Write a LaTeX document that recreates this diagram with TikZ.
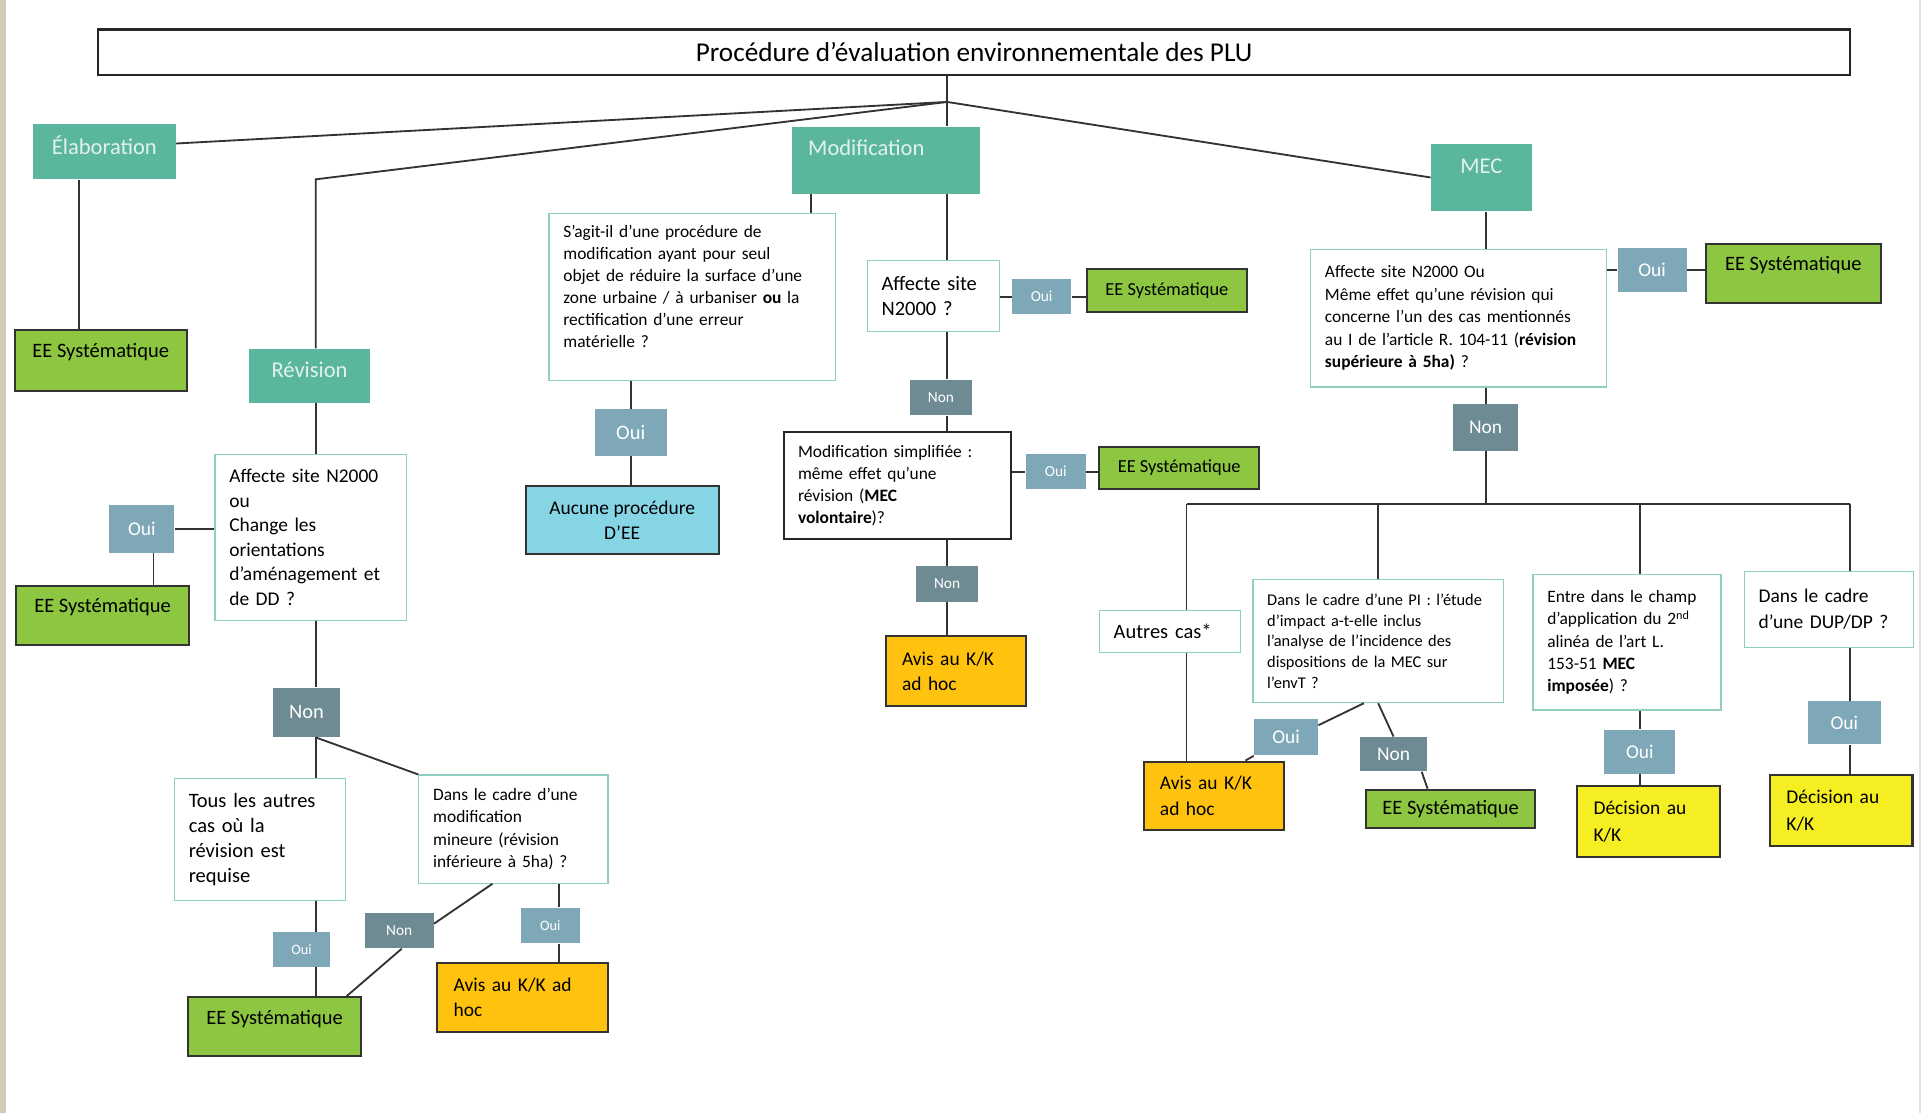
\documentclass[tikz,border=0pt]{standalone}
\usepackage{fontspec}
\setmainfont{Carlito}
\definecolor{headteal}{HTML}{5BB69E}
\definecolor{headtext}{HTML}{E3F2EE}
\definecolor{eegreen}{HTML}{8DC641}
\definecolor{ouiblue}{HTML}{7EA8B7}
\definecolor{nongray}{HTML}{6E8B93}
\definecolor{avisorange}{HTML}{FFC20E}
\definecolor{decyellow}{HTML}{F5EE22}
\definecolor{aucunecyan}{HTML}{86D5E5}
\definecolor{qline}{HTML}{8FCFC2}
\definecolor{stripe}{HTML}{CFCBB5}
\newcommand{\upx}{0.6pt}
\newcommand{\setfs}[2]{\fontsize{#1}{#2}\selectfont}
\tikzset{
  sz/.style 2 args={minimum width=#1*\upx,minimum height=#2*\upx},
  titlebox/.style={draw=black!85,line width=1.2pt,fill=white,font=\setfs{13.3}{15}},
  head/.style={fill=headteal,text=headtext,inner sep=0pt,font=\setfs{11}{13}},
  ee/.style={fill=eegreen,draw=black!80,line width=1pt,inner sep=0pt,font=\setfs{#1}{#1}},
  ee/.default=10,
  oui/.style={fill=ouiblue,text=white,inner sep=0pt,font=\setfs{#1}{#1}},
  non/.style={fill=nongray,text=white,inner sep=0pt,font=\setfs{#1}{#1}},
  quest/.style={draw=qline,line width=0.6pt,fill=white,align=left,inner xsep=7pt,inner ysep=0pt},
  avis/.style={fill=avisorange,draw=black!80,line width=1pt,align=left,inner xsep=8pt,inner ysep=0pt,font=\setfs{9.5}{12.6}},
  decis/.style={fill=decyellow,draw=black!80,line width=1pt,align=left,inner xsep=8pt,inner ysep=0pt,font=\setfs{9.5}{13.2}},
  link/.style={draw=black!80,line width=0.9pt}
}
\begin{document}
\begin{tikzpicture}[x=0.6pt,y=-0.6pt]
\useasboundingbox (0,0) rectangle (1568,906);
\fill[white] (0,0) rectangle (1568,906);
\fill[stripe] (0,0) rectangle (5,906);
\draw[black!12,line width=0.8pt] (1563,0) -- (1563,906);
% title and first level
\node(title) at (793,42.5)[titlebox,sz={1426}{37}]{Procédure d’évaluation environnementale des PLU};
\coordinate(hub) at (771,83);
\coordinate(revbend) at (257,146);
\node(elab) at (85,123.5)[head,sz={116}{45},text depth=6pt]{Élaboration};
\node(rev) at (252,306)[head,sz={98}{44},text depth=5.6pt]{Révision};
\node(modif) at (721.5,130.5)[head,sz={153}{55},align=left,text width=76.2pt,inner xsep=7.8pt,text depth=12pt]{Modification};
\node(mec) at (1206,144.5)[head,sz={82}{55},text depth=11pt]{MEC};
% elaboration
\coordinate(elx) at (64,0);
\node(ee1) at (82,293.5)[ee,sz={140}{49},text depth=9.5pt]{EE Systématique};
% revision
\coordinate(ouirx) at (125,0);
\coordinate(dmx) at (455,0);
\node(r1) at (253,437.5)[quest,sz={156}{135},text width=79.6pt,font=\setfs{9.5}{12}]{Affecte site N2000\\ou\\Change les\\orientations\\d’aménagement et\\de DD ?};
\node(ouir) at (115.5,430.5)[oui=9.5,sz={53}{39}]{Oui};
\node(ee2) at (83.5,501)[ee,sz={141}{48},text depth=9.5pt]{EE Systématique};
\node(nonr) at (249.5,580)[non=10,sz={55}{40}]{Non};
\node(tous) at (211.5,683.5)[quest,sz={139}{99},text width=69.4pt,font=\setfs{10}{12.3}]{Tous les autres\\cas où la\\révision est\\requise};
\node(dansm) at (418,675)[quest,sz={154}{88},text width=78.4pt,font=\setfs{8.5}{10.8}]{Dans le cadre d’une\\modification\\mineure (révision\\inférieure à 5ha) ?};
\node(ouit) at (245.5,773)[oui=7,sz={47}{28}]{Oui};
\node(ee3) at (223.5,836)[ee,sz={141}{48},text depth=9pt]{EE Systématique};
\node(nonm) at (325,757.5)[non=7.5,sz={56}{29}]{Non};
\node(ouim) at (448,753.5)[oui=7,sz={48}{29}]{Oui};
\node(avis1) at (425.5,812)[avis,sz={139}{56},text width=67.4pt]{Avis au K/K ad\\hoc};
% modification
\coordinate(sgx) at (660,0);
\node(sagit) at (563.5,242)[quest,sz={233}{136},text width=125.8pt,font=\setfs{8.5}{10.8}]{S’agit-il d’une procédure de\\modification ayant pour seul\\objet de réduire la surface d’une\\zone urbaine / à urbaniser \textbf{ou} la\\rectification d’une erreur\\matérielle ?\\\mbox{}};
\node(ouis) at (513.5,352)[oui=10,sz={59}{38}]{Oui};
\node(aucune) at (506.5,423.5)[fill=aucunecyan,draw=black!80,line width=1pt,align=center,sz={157}{55},font=\setfs{9.5}{12.6}]{Aucune procédure\\D’EE};
\node(affm) at (760,241)[quest,sz={108}{58},text width=50.8pt,font=\setfs{10}{12.6}]{Affecte site\\N2000 ?};
\node(ouia) at (848,241.5)[oui=7.5,sz={48}{29}]{Oui};
\node(ee4) at (950,236.5)[ee=9,sz={130}{35}]{EE Systématique};
\node(nona) at (766,323.5)[non=7.5,sz={50}{29}]{Non};
\node(simp) at (730.5,395.5)[quest,draw=black!85,line width=1pt,sz={185}{87},text width=97pt,font=\setfs{8.5}{10.8}]{Modification simplifiée :\\même effet qu’une\\révision (\textbf{MEC}\\\textbf{volontaire})?};
\node(ouisi) at (859.5,384)[oui=7.5,sz={49}{28}]{Oui};
\node(ee5) at (960,381)[ee=9,sz={130}{34}]{EE Systématique};
\node(nonsi) at (771,475.5)[non=7.5,sz={50}{29}]{Non};
\node(avis2) at (778,546.5)[avis,sz={114}{57},text width=52.4pt]{Avis au K/K\\ad hoc};
% MEC
\coordinate(busl) at (966,410);
\coordinate(busr) at (1506,410);
\node(bigq) at (1187.5,259)[quest,sz={241}{112},text width=130.6pt,font=\setfs{8.5}{11}]{Affecte site N2000 Ou\\Même effet qu’une révision qui\\concerne l’un des cas mentionnés\\au I de l’article R. 104-11 (\textbf{révision}\\\textbf{supérieure à 5ha)} ?};
\node(ouib) at (1345,220)[oui=9.5,sz={56}{36}]{Oui};
\node(ee6) at (1460,223)[ee,sz={142}{48},text depth=10pt]{EE Systématique};
\node(nonb) at (1209.5,348)[non=9.5,sz={53}{38}]{Non};
\node(autres) at (952.5,514)[quest,sz={115}{34},text width=55pt,font=\setfs{10}{12}]{Autres cas*};
\node(avis3) at (988,648)[avis,sz={114}{56},text width=52.4pt]{Avis au K/K\\ad hoc};
\node(pi) at (1122,522)[quest,sz={204}{100},text width=108.4pt,font=\setfs{8}{10.2}]{Dans le cadre d’une PI : l’étude\\d’impact a-t-elle inclus\\l’analyse de l’incidence des\\dispositions de la MEC sur\\l’envT ?};
\node(ouip) at (1047,600)[oui=9.5,sz={52}{30}]{Oui};
\node(nonp) at (1134.5,614)[non=9.5,sz={55}{28}]{Non};
\node(ee7) at (1181,658.5)[ee,sz={138}{31}]{EE Systématique};
\node(entre) at (1324.5,523)[quest,sz={153}{110},text width=77.8pt,font=\setfs{8.5}{10.8}]{Entre dans le champ\\d’application du 2\textsuperscript{nd}\\alinéa de l’art L.\\153-51 \textbf{MEC}\\\textbf{imposée}) ?};
\node(ouie) at (1335,612)[oui=9.5,sz={58}{36}]{Oui};
\node(dec1) at (1342,669)[decis,sz={116}{58},text width=53.6pt]{Décision au\\K/K};
\node(dup) at (1489,496)[quest,sz={138}{62},text width=68.8pt,font=\setfs{9.5}{12.6}]{Dans le cadre\\d’une DUP/DP ?};
\node(ouid) at (1501.5,588.5)[oui=9.5,sz={59}{35}]{Oui};
\node(dec2) at (1499,660)[decis,sz={116}{58},text width=53.6pt]{Décision au\\K/K};
% connectors
\draw[link] (hub) -- (revbend) -- (rev.north -| revbend);
\path [link]
  (title.south -| hub) edge (hub)
  (hub)                edge (modif.north -| hub)
  (hub)                edge ([yshift=4pt]elab.east)
  (hub)                edge (mec.west)
  (elab.south -| elx)  edge (ee1.north -| elx)
  (rev.south -| revbend) edge (r1.north -| revbend)
  (r1.west |- ouir)    edge (ouir.east)
  (ouir.south -| ouirx) edge (ee2.north -| ouirx)
  (r1.south -| revbend) edge (nonr.north -| revbend)
  (nonr.south -| revbend) edge (tous.north -| revbend)
  (nonr.south -| revbend) edge (dansm.north west)
  (tous.south -| revbend) edge (ouit.north -| revbend)
  (ouit.south -| revbend) edge (ee3.north -| revbend)
  (dansm.-111)         edge (nonm.11)
  (nonm.-82)           edge (ee3.23)
  (dansm.south -| dmx) edge (ouim.north -| dmx)
  (ouim.south -| dmx)  edge (avis1.north -| dmx);
\path [link]
  (modif.south -| sgx) edge (sagit.north -| sgx)
  (sagit.south -| ouis) edge (ouis.north)
  (ouis.south)         edge (aucune.north -| ouis)
  (modif.south -| hub) edge (affm.north -| hub)
  (affm.east |- ouia)  edge (ouia.west)
  (ouia.east)          edge (ee4.west |- ouia)
  (affm.south -| hub)  edge (nona.north -| hub)
  (nona.south -| hub)  edge (simp.north -| hub)
  (simp.east |- ouisi) edge (ouisi.west)
  (ouisi.east)         edge (ee5.west |- ouisi)
  (simp.south -| hub)  edge (nonsi.north -| hub)
  (nonsi.south -| hub) edge (avis2.north -| hub);
\path [link]
  (mec.south -| nonb)  edge (bigq.north -| nonb)
  (bigq.east |- ouib)  edge (ouib.west)
  (ouib.east)          edge (ee6.west |- ouib)
  (bigq.south -| nonb) edge (nonb.north)
  (nonb.south)         edge (nonb.south |- busl)
  (busl)               edge (busr)
  (busl)               edge (autres.north -| busl)
  (autres.south -| busl) edge (avis3.north -| busl)
  (pi.north |- busl)   edge (pi.north)
  (ouie |- busl)       edge (entre.north -| ouie)
  (entre.south -| ouie) edge (ouie.north)
  (ouie.south)         edge (dec1.north -| ouie)
  (busr)               edge (dup.north -| busr)
  (dup.south -| busr)  edge (ouid.north -| busr)
  (ouid.south -| busr) edge (dec2.north -| busr)
  ([xshift=-7pt]pi.south) edge (ouip.20)
  (ouip.south west)    edge (avis3.48)
  (pi.south)           edge (nonp.north)
  (nonp.-32)           edge (ee7.139);
\end{tikzpicture}
\end{document}
